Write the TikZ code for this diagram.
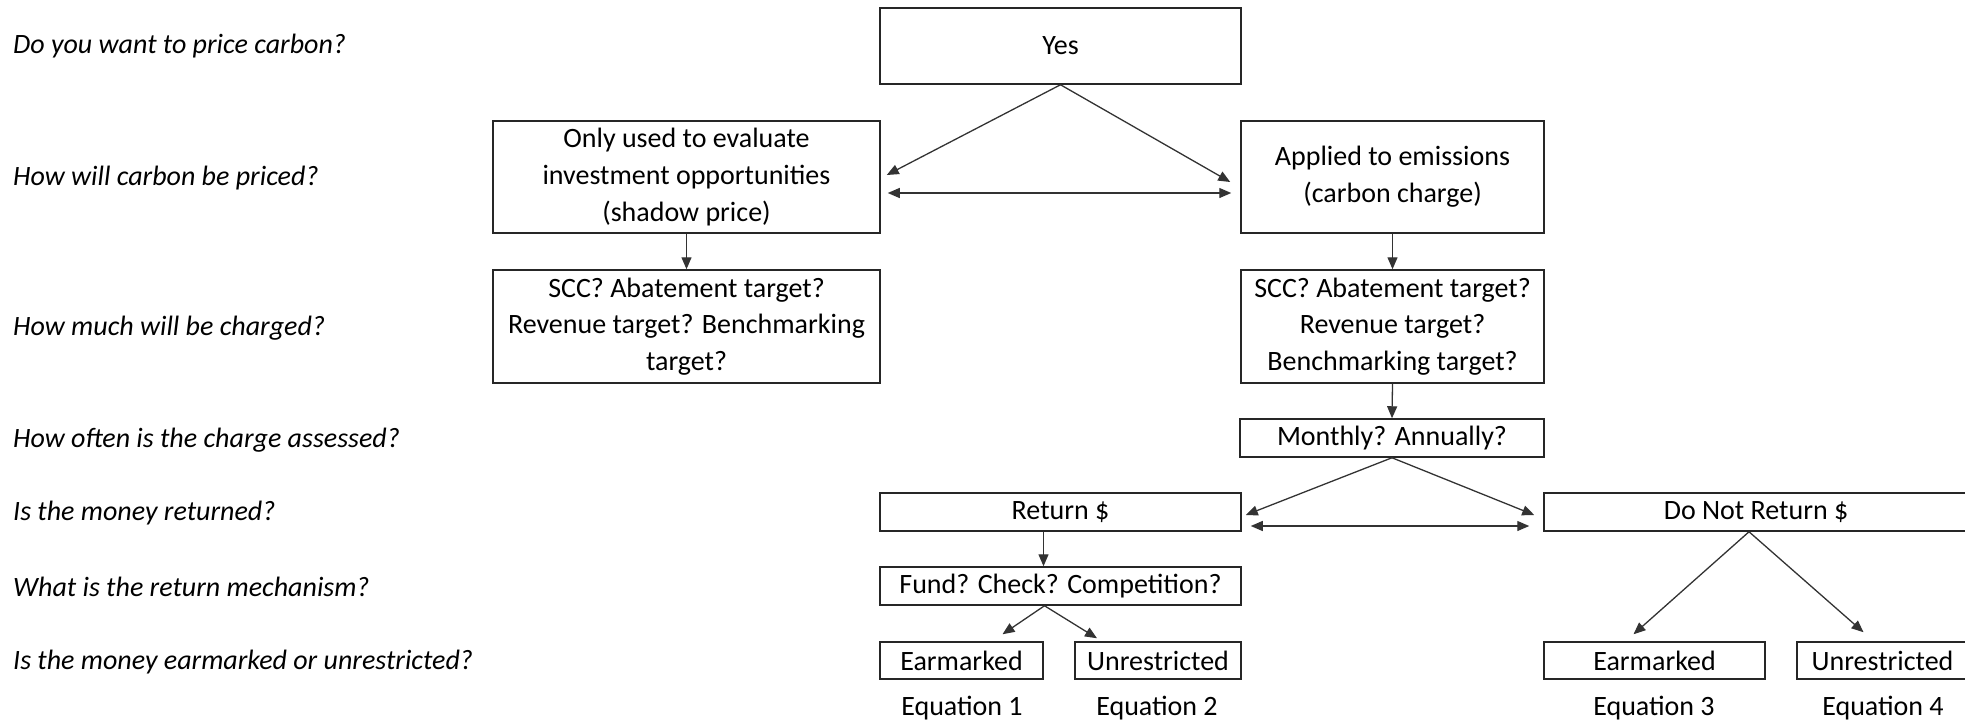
\documentclass[tikz,border=0pt]{standalone}
\usepackage{fontspec}
\setmainfont{Carlito}
\usetikzlibrary{arrows.meta}
\tikzset{
  every node/.style={font=\fontsize{28}{36.7}\selectfont},
  box/.style={draw=black!85, line width=1.5pt, inner sep=0pt, align=center, rectangle},
  question/.style={anchor=west, inner sep=0pt, font=\fontsize{28}{34}\selectfont\itshape},
  eqlabel/.style={inner sep=0pt},
  conn/.style={draw=black!80, line width=1.3pt, -{Triangle[length=12pt,width=10pt]}},
  dconn/.style={draw=black!80, line width=1.3pt, {Triangle[length=12pt,width=10pt]}-{Triangle[length=12pt,width=10pt]}}
}
\begin{document}
\begin{tikzpicture}[x=1pt, y=-1pt]
\useasboundingbox (0,0) rectangle (1965,721);
% questions
\node[question] (q1) at (13,46) {Do you want to price carbon?};
\node[question] (q2) at (13,178) {How will carbon be priced?};
\node[question] (q3) at (13,328) {How much will be charged?};
\node[question] (q4) at (13,440) {How often is the charge assessed?};
\node[question] (q5) at (13,513) {Is the money returned?};
\node[question] (q6) at (13,587) {What is the return mechanism?};
\node[question] (q7) at (13,662) {Is the money earmarked or unrestricted?};
% boxes
\node[box, minimum width=361pt, minimum height=76pt] (yes) at (1060.5,46) {Yes};
\node[box, minimum width=387pt, minimum height=112pt] (shadow) at (686.5,177) {Only used to evaluate\\investment opportunities\\(shadow price)};
\node[box, minimum width=303pt, minimum height=112pt] (charge) at (1392.5,177) {Applied to emissions\\(carbon charge)};
\node[box, minimum width=387pt, minimum height=113pt] (scc1) at (686.5,326.5) {SCC? Abatement target?\\Revenue target? Benchmarking\\target?};
\node[box, minimum width=303pt, minimum height=113pt] (scc2) at (1392.5,326.5) {SCC? Abatement target?\\Revenue target?\\Benchmarking target?};
\node[box, minimum width=304pt, minimum height=38pt] (monthly) at (1392,438) {Monthly? Annually?};
\node[box, minimum width=361pt, minimum height=38pt] (ret) at (1060.5,512) {Return \$};
\node[box, minimum width=424pt, minimum height=38pt] (noret) at (1756,512) {Do Not Return \$};
\node[box, minimum width=361pt, minimum height=38pt] (fund) at (1060.5,586) {Fund? Check? Competition?};
\node[box, minimum width=163pt, minimum height=37pt] (ear1) at (961.5,660.5) {Earmarked};
\node[box, minimum width=166pt, minimum height=37pt] (unr1) at (1158,660.5) {Unrestricted};
\node[box, minimum width=221pt, minimum height=37pt] (ear2) at (1654.5,660.5) {Earmarked};
\node[box, minimum width=171pt, minimum height=37pt] (unr2) at (1882.5,660.5) {Unrestricted};
% equation labels
\node[eqlabel] (eq1) at (962,708) {Equation 1};
\node[eqlabel] (eq2) at (1157,708) {Equation 2};
\node[eqlabel] (eq3) at (1654,708) {Equation 3};
\node[eqlabel] (eq4) at (1883,708) {Equation 4};
% connectors
\draw[conn] (yes.south) -- ([shift={(6pt,2pt)}]shadow.east);
\draw[conn] (yes.south) -- ([shift={(-10pt,-5pt)}]charge.west);
\draw[dconn] ([shift={(7pt,-16pt)}]shadow.east) -- ([shift={(-9pt,-16pt)}]charge.west);
\draw[conn] (shadow.south) -- (scc1.north);
\draw[conn] (charge.south) -- (scc2.north);
\draw[conn] (scc2.south) -- (monthly.north);
\draw[conn] (monthly.south) -- ([shift={(4pt,-3pt)}]ret.east);
\draw[conn] (monthly.south) -- ([shift={(-9pt,-3pt)}]noret.west);
\draw[dconn] ([shift={(9pt,-14pt)}]ret.east) -- ([shift={(-14pt,-14pt)}]noret.west);
\draw[conn] ([xshift=-17pt]ret.south) -- ([xshift=-17pt]fund.north);
\draw[conn] ([xshift=-16pt]fund.south) -- ([shift={(41pt,7pt)}]ear1.north);
\draw[conn] ([xshift=-16pt]fund.south) -- ([shift={(-61pt,3pt)}]unr1.north);
\draw[conn] ([xshift=-7pt]noret.south) -- ([shift={(-21pt,7pt)}]ear2.north);
\draw[conn] ([xshift=-7pt]noret.south) -- ([shift={(-19pt,9pt)}]unr2.north);
\end{tikzpicture}
\end{document}
